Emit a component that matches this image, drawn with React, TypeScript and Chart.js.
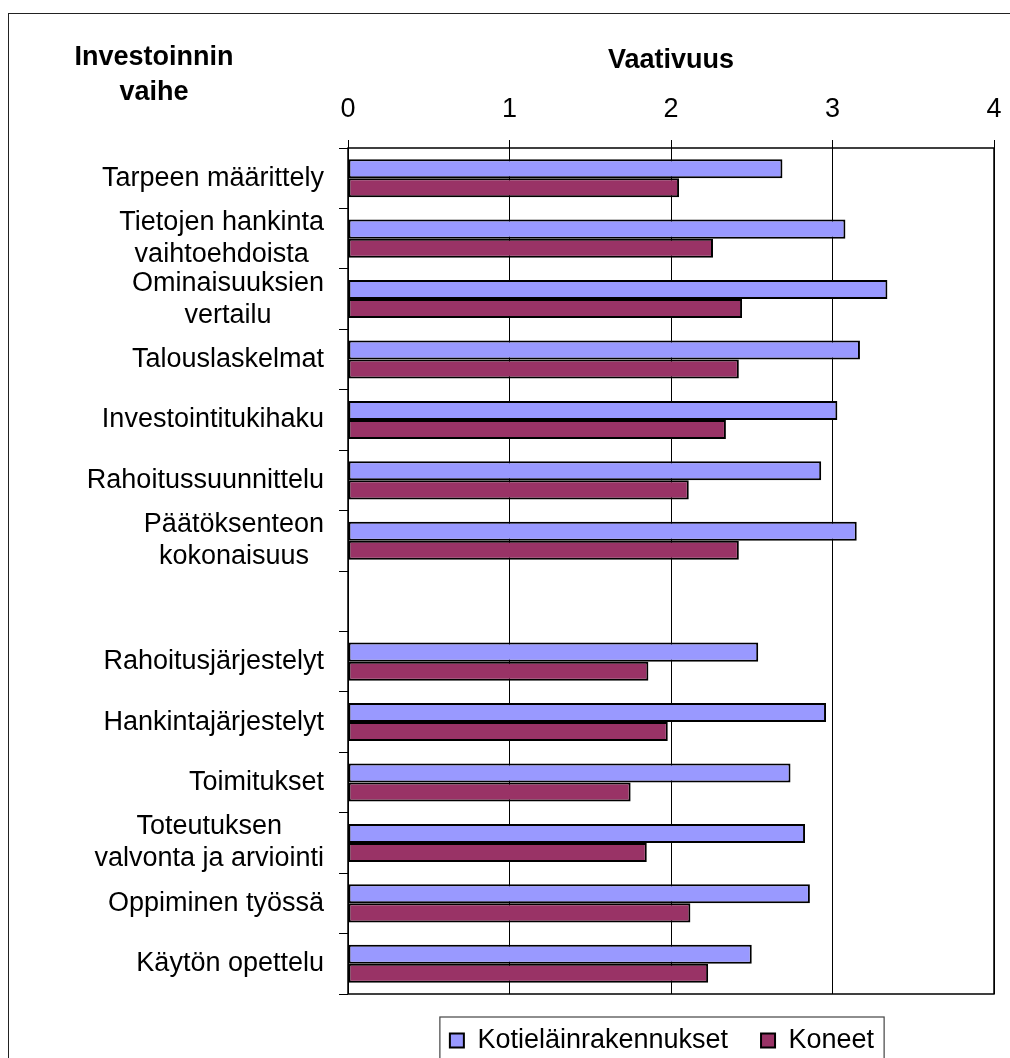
import React, { useEffect, useRef } from 'react';
import { Chart, registerables } from 'chart.js';

Chart.register(...registerables);

// ---- data ----
const categories: string[][] = [
  ['Tarpeen määrittely'],
  ['Tietojen hankinta', 'vaihtoehdoista'],
  ['Ominaisuuksien', 'vertailu'],
  ['Talouslaskelmat'],
  ['Investointitukihaku'],
  ['Rahoitussuunnittelu'],
  ['Päätöksenteon', 'kokonaisuus'],
  [''],
  ['Rahoitusjärjestelyt'],
  ['Hankintajärjestelyt'],
  ['Toimitukset'],
  ['Toteutuksen', 'valvonta ja arviointi'],
  ['Oppiminen työssä'],
  ['Käytön opettelu'],
];
const kotielainrakennukset = [2.69, 3.08, 3.34, 3.17, 3.03, 2.93, 3.15, null, 2.54, 2.96, 2.74, 2.83, 2.86, 2.5];
const koneet = [2.05, 2.26, 2.44, 2.42, 2.34, 2.11, 2.42, null, 1.86, 1.98, 1.75, 1.85, 2.12, 2.23];
const seriesNames = ['Kotieläinrakennukset', 'Koneet'];
const xTicks = [0, 1, 2, 3, 4];
const xAxisTitle = 'Vaativuus';
const headingLines = ['Investoinnin', 'vaihe'];

// ---- style ----
const FONT = '"Liberation Sans", Arial, sans-serif';
const FS = 27;
const LABEL_RIGHT = 324;
const LINE_H = 32;

const customPlugin = {
  id: 'customDecor',
  afterDatasetsDraw(chart: any) {
    const { ctx, chartArea: a } = chart;
    ctx.save();
    ctx.strokeStyle = '#000';
    ctx.lineWidth = 1.5;
    ctx.strokeRect(a.left, a.top, a.right - a.left, a.bottom - a.top);
    ctx.restore();
  },
  afterDraw(chart: any) {
    const ctx = chart.ctx;
    const yScale = chart.scales.y;
    ctx.save();
    ctx.fillStyle = '#000';
    ctx.font = `${FS}px ${FONT}`;
    ctx.textAlign = 'center';
    ctx.textBaseline = 'middle';
    categories.forEach((lines, i) => {
      const cy = yScale.getPixelForValue(i);
      const w = Math.max(...lines.map((l) => ctx.measureText(l).width));
      const cx = LABEL_RIGHT - w / 2;
      lines.forEach((l, k) => {
        ctx.fillText(l, cx, cy + (k - (lines.length - 1) / 2) * LINE_H);
      });
    });
    ctx.font = `bold ${FS}px ${FONT}`;
    ctx.textBaseline = 'alphabetic';
    headingLines.forEach((l, k) => ctx.fillText(l, 154, 65 + k * 35));

    const hb = chart.legend && chart.legend.legendHitBoxes;
    if (hb && hb.length) {
      const first = hb[0];
      const last = hb[hb.length - 1];
      const left = first.left - 10;
      const right = last.left + last.width + 10;
      const top = first.top - 10;
      const bottom = first.top + first.height + 30;
      ctx.strokeStyle = '#444';
      ctx.lineWidth = 1.2;
      ctx.strokeRect(left, top, right - left, bottom - top);
    }
    ctx.restore();
  },
};

export default function App() {
  const ref = useRef<HTMLCanvasElement>(null);

  useEffect(() => {
    Chart.defaults.font.family = FONT;
    const chart = new Chart(ref.current as HTMLCanvasElement, {
      type: 'bar',
      data: {
        labels: categories.map((c) => c.join(' ')),
        datasets: [
          {
            label: seriesNames[0],
            data: kotielainrakennukset as any,
            backgroundColor: '#9999FF',
            borderColor: '#000',
            borderWidth: 2,
            borderSkipped: false,
            categoryPercentage: 0.63,
            barPercentage: 1.0,
          },
          {
            label: seriesNames[1],
            data: koneet as any,
            backgroundColor: '#993366',
            borderColor: '#000',
            borderWidth: 2,
            borderSkipped: false,
            categoryPercentage: 0.63,
            barPercentage: 1.0,
          },
        ],
      },
      options: {
        indexAxis: 'y',
        responsive: false,
        animation: false,
        devicePixelRatio: 1,
        layout: { padding: { left: 330, right: 16, top: 0, bottom: 0 } },
        plugins: {
          tooltip: { enabled: false },
          legend: {
            position: 'bottom',
            labels: {
              color: '#000',
              font: { size: FS, family: FONT },
              boxWidth: 14,
              boxHeight: 14,
              padding: 33,
            },
          },
        },
        scales: {
          x: {
            position: 'top',
            min: 0,
            max: 4,
            afterBuildTicks: (s: any) => {
              s.ticks = xTicks.map((v) => ({ value: v }));
            },
            afterFit: (s: any) => {
              s.height = 148;
              s.paddingLeft = 0;
              s.paddingRight = 0;
            },
            ticks: {
              color: '#000',
              font: { size: FS, family: FONT },
              padding: 14,
            },
            grid: {
              color: '#000',
              lineWidth: 1,
              tickLength: 8,
              drawTicks: true,
              drawOnChartArea: true,
            },
            border: { display: false },
            title: {
              display: true,
              text: xAxisTitle,
              color: '#000',
              font: { size: FS, weight: 'bold', family: FONT },
              padding: { top: 44, bottom: 0 },
            },
          },
          y: {
            type: 'category',
            afterFit: (s: any) => {
              s.width = 18;
            },
            ticks: { display: false },
            grid: {
              offset: true,
              color: '#000',
              lineWidth: 1,
              tickLength: 9,
              drawOnChartArea: false,
              drawTicks: true,
            },
            border: { display: false },
          },
        },
      },
      plugins: [customPlugin],
    } as any);
    return () => chart.destroy();
  }, []);

  return (
    <div
      style={{
        position: 'fixed',
        left: 0,
        top: 0,
        width: 1010,
        height: 1058,
        overflow: 'hidden',
        background: '#fff',
      }}
    >
      <div
        style={{
          position: 'absolute',
          left: 8,
          top: 13,
          width: 1100,
          height: 1100,
          border: '1.5px solid #222',
          boxSizing: 'border-box',
        }}
      />
      <canvas
        ref={ref}
        width={1010}
        height={1064}
        style={{ position: 'absolute', left: 0, top: 0, width: 1010, height: 1064 }}
      />
    </div>
  );
}
